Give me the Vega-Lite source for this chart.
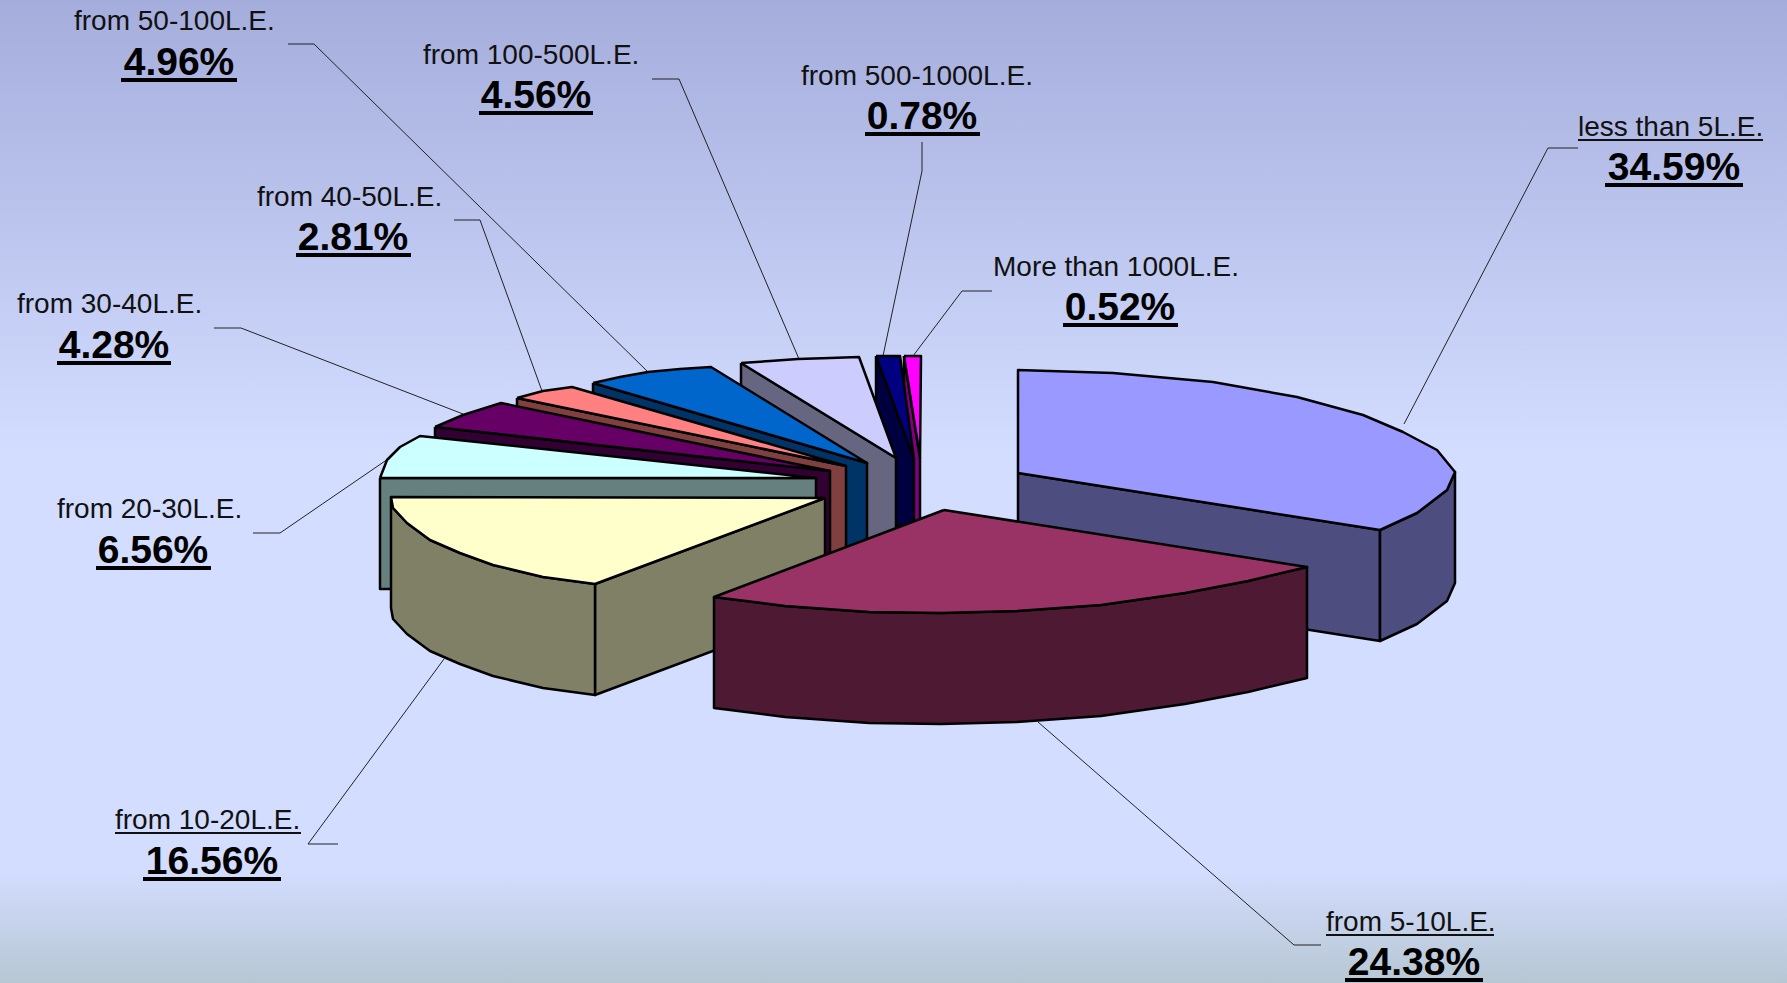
{
"$schema":"https://vega.github.io/schema/vega-lite/v6.json",
"autosize":{"type":"fit","contains":"padding"},"width":1787,"height":983,"padding":0,"background":"#D3DDFF",
"config":{"view":{"stroke":null}},
"layer":[
{"data":{"values":[{"k":"bg"}]},"mark":{"type":"rect","fill":{"gradient":"linear","x1":0,"y1":0,"x2":0,"y2":1,"stops":[{"offset":0,"color":"#A5ADDC"},{"offset":0.46,"color":"#D3DDFF"},{"offset":0.885,"color":"#D3DDFF"},{"offset":1,"color":"#B7C7D3"}]}},
"encoding":{"x":{"datum":0,"type":"quantitative","scale":{"domain":[0,1787],"nice":false,"zero":false},"axis":null},"x2":{"datum":1787},"y":{"datum":0,"type":"quantitative","scale":{"domain":[983,0],"nice":false,"zero":false},"axis":null},"y2":{"datum":983}}},
{"data":{"values":[
{"p":"l1","s":1,"x":288,"y":44},{"p":"l1","s":2,"x":314,"y":44},{"p":"l1","s":3,"x":648,"y":372},
{"p":"l2","s":1,"x":652,"y":79},{"p":"l2","s":2,"x":679,"y":79},{"p":"l2","s":3,"x":799,"y":359},
{"p":"l3","s":1,"x":454,"y":220},{"p":"l3","s":2,"x":480,"y":220},{"p":"l3","s":3,"x":542,"y":391},
{"p":"l4","s":1,"x":214,"y":328},{"p":"l4","s":2,"x":241,"y":328},{"p":"l4","s":3,"x":463,"y":414},
{"p":"l5","s":1,"x":922,"y":142},{"p":"l5","s":2,"x":922,"y":171},{"p":"l5","s":3,"x":883,"y":356},
{"p":"l6","s":1,"x":992,"y":291},{"p":"l6","s":2,"x":962,"y":291},{"p":"l6","s":3,"x":913,"y":356},
{"p":"l7","s":1,"x":1578,"y":148},{"p":"l7","s":2,"x":1548,"y":148},{"p":"l7","s":3,"x":1404,"y":424},
{"p":"l8","s":1,"x":1321,"y":945},{"p":"l8","s":2,"x":1294,"y":945},{"p":"l8","s":3,"x":1038,"y":722},
{"p":"l9","s":1,"x":338,"y":844},{"p":"l9","s":2,"x":308,"y":844},{"p":"l9","s":3,"x":444,"y":659},
{"p":"l10","s":1,"x":253,"y":533},{"p":"l10","s":2,"x":280,"y":533},{"p":"l10","s":3,"x":388,"y":459}
]},"mark":{"type":"line","stroke":"#222222","strokeWidth":1},
"encoding":{"x":{"field":"x","type":"quantitative","scale":{"domain":[0,1787],"nice":false,"zero":false},"axis":null},"y":{"field":"y","type":"quantitative","scale":{"domain":[983,0],"nice":false,"zero":false},"axis":null},"detail":{"field":"p"},"order":{"field":"s"}}},
{"data":{"values":[
{"p":"m_side","s":1,"x":904,"y":356},{"p":"m_side","s":2,"x":920,"y":458},{"p":"m_side","s":3,"x":920,"y":569},{"p":"m_side","s":4,"x":904,"y":467},{"p":"m_side","s":5,"x":904,"y":356},
{"p":"m_top","s":1,"x":904,"y":356},{"p":"m_top","s":2,"x":921,"y":356},{"p":"m_top","s":3,"x":920,"y":458},{"p":"m_top","s":4,"x":904,"y":356},
{"p":"n_side","s":1,"x":876,"y":356},{"p":"n_side","s":2,"x":914,"y":459},{"p":"n_side","s":3,"x":914,"y":570},{"p":"n_side","s":4,"x":876,"y":467},{"p":"n_side","s":5,"x":876,"y":356},
{"p":"n_top","s":1,"x":876,"y":356},{"p":"n_top","s":2,"x":900,"y":356},{"p":"n_top","s":3,"x":914,"y":459},{"p":"n_top","s":4,"x":876,"y":356},
{"p":"l_side","s":1,"x":741,"y":363},{"p":"l_side","s":2,"x":896,"y":458},{"p":"l_side","s":3,"x":896,"y":569},{"p":"l_side","s":4,"x":741,"y":474},{"p":"l_side","s":5,"x":741,"y":363},
{"p":"l_top","s":1,"x":741,"y":363},{"p":"l_top","s":2,"x":770,"y":361},{"p":"l_top","s":3,"x":798,"y":359},{"p":"l_top","s":4,"x":830,"y":358},{"p":"l_top","s":5,"x":859,"y":357},{"p":"l_top","s":6,"x":896,"y":458},{"p":"l_top","s":7,"x":741,"y":363},
{"p":"b_side","s":1,"x":593,"y":383},{"p":"b_side","s":2,"x":867,"y":463},{"p":"b_side","s":3,"x":867,"y":574},{"p":"b_side","s":4,"x":593,"y":494},{"p":"b_side","s":5,"x":593,"y":383},
{"p":"b_top","s":1,"x":593,"y":383},{"p":"b_top","s":2,"x":620,"y":377},{"p":"b_top","s":3,"x":648,"y":372},{"p":"b_top","s":4,"x":680,"y":369},{"p":"b_top","s":5,"x":711,"y":367},{"p":"b_top","s":6,"x":867,"y":463},{"p":"b_top","s":7,"x":593,"y":383},
{"p":"s_side","s":1,"x":517,"y":398},{"p":"s_side","s":2,"x":846,"y":466},{"p":"s_side","s":3,"x":846,"y":577},{"p":"s_side","s":4,"x":517,"y":509},{"p":"s_side","s":5,"x":517,"y":398},
{"p":"s_top","s":1,"x":517,"y":398},{"p":"s_top","s":2,"x":543,"y":391},{"p":"s_top","s":3,"x":572,"y":387},{"p":"s_top","s":4,"x":846,"y":466},{"p":"s_top","s":5,"x":517,"y":398},
{"p":"p_side","s":1,"x":435,"y":427},{"p":"p_side","s":2,"x":830,"y":471},{"p":"p_side","s":3,"x":830,"y":582},{"p":"p_side","s":4,"x":435,"y":538},{"p":"p_side","s":5,"x":435,"y":427},
{"p":"p_top","s":1,"x":435,"y":427},{"p":"p_top","s":2,"x":463,"y":415},{"p":"p_top","s":3,"x":501,"y":403},{"p":"p_top","s":4,"x":830,"y":471},{"p":"p_top","s":5,"x":435,"y":427},
{"p":"c_side","s":1,"x":380,"y":478},{"p":"c_side","s":2,"x":816,"y":478},{"p":"c_side","s":3,"x":816,"y":589},{"p":"c_side","s":4,"x":380,"y":589},{"p":"c_side","s":5,"x":380,"y":478},
{"p":"c_top","s":1,"x":380,"y":478},{"p":"c_top","s":2,"x":387,"y":460},{"p":"c_top","s":3,"x":400,"y":447},{"p":"c_top","s":4,"x":420,"y":436},{"p":"c_top","s":5,"x":816,"y":478},{"p":"c_top","s":6,"x":380,"y":478},
{"p":"y_inner","s":1,"x":825,"y":498},{"p":"y_inner","s":2,"x":595,"y":584},{"p":"y_inner","s":3,"x":595,"y":695},{"p":"y_inner","s":4,"x":825,"y":609},{"p":"y_inner","s":5,"x":825,"y":498},
{"p":"y_outer","s":1,"x":391,"y":497},{"p":"y_outer","s":2,"x":393,"y":508},{"p":"y_outer","s":3,"x":407,"y":523},{"p":"y_outer","s":4,"x":430,"y":540},{"p":"y_outer","s":5,"x":460,"y":553},{"p":"y_outer","s":6,"x":493,"y":565},{"p":"y_outer","s":7,"x":543,"y":577},{"p":"y_outer","s":8,"x":595,"y":584},{"p":"y_outer","s":9,"x":595,"y":695},{"p":"y_outer","s":10,"x":543,"y":688},{"p":"y_outer","s":11,"x":493,"y":676},{"p":"y_outer","s":12,"x":460,"y":664},{"p":"y_outer","s":13,"x":430,"y":651},{"p":"y_outer","s":14,"x":407,"y":634},{"p":"y_outer","s":15,"x":393,"y":619},{"p":"y_outer","s":16,"x":391,"y":608},{"p":"y_outer","s":17,"x":391,"y":497},
{"p":"y_top","s":1,"x":825,"y":498},{"p":"y_top","s":2,"x":391,"y":497},{"p":"y_top","s":3,"x":393,"y":508},{"p":"y_top","s":4,"x":407,"y":523},{"p":"y_top","s":5,"x":430,"y":540},{"p":"y_top","s":6,"x":460,"y":553},{"p":"y_top","s":7,"x":493,"y":565},{"p":"y_top","s":8,"x":543,"y":577},{"p":"y_top","s":9,"x":595,"y":584},{"p":"y_top","s":10,"x":825,"y":498},
{"p":"a_inner","s":1,"x":1018,"y":473},{"p":"a_inner","s":2,"x":1380,"y":530},{"p":"a_inner","s":3,"x":1380,"y":641},{"p":"a_inner","s":4,"x":1018,"y":584},{"p":"a_inner","s":5,"x":1018,"y":473},
{"p":"a_outer","s":1,"x":1380,"y":530},{"p":"a_outer","s":2,"x":1417,"y":513},{"p":"a_outer","s":3,"x":1447,"y":490},{"p":"a_outer","s":4,"x":1455,"y":472},{"p":"a_outer","s":5,"x":1455,"y":583},{"p":"a_outer","s":6,"x":1447,"y":601},{"p":"a_outer","s":7,"x":1417,"y":624},{"p":"a_outer","s":8,"x":1380,"y":641},{"p":"a_outer","s":9,"x":1380,"y":530},
{"p":"a_top","s":1,"x":1018,"y":473},{"p":"a_top","s":2,"x":1018,"y":370},{"p":"a_top","s":3,"x":1113,"y":373},{"p":"a_top","s":4,"x":1213,"y":382},{"p":"a_top","s":5,"x":1297,"y":397},{"p":"a_top","s":6,"x":1363,"y":415},{"p":"a_top","s":7,"x":1403,"y":432},{"p":"a_top","s":8,"x":1437,"y":450},{"p":"a_top","s":9,"x":1455,"y":472},{"p":"a_top","s":10,"x":1447,"y":490},{"p":"a_top","s":11,"x":1417,"y":513},{"p":"a_top","s":12,"x":1380,"y":530},{"p":"a_top","s":13,"x":1018,"y":473},
{"p":"r_side","s":1,"x":714,"y":597},{"p":"r_side","s":2,"x":785,"y":606},{"p":"r_side","s":3,"x":869,"y":612},{"p":"r_side","s":4,"x":941,"y":613},{"p":"r_side","s":5,"x":1017,"y":611},{"p":"r_side","s":6,"x":1101,"y":605},{"p":"r_side","s":7,"x":1185,"y":593},{"p":"r_side","s":8,"x":1248,"y":581},{"p":"r_side","s":9,"x":1307,"y":567},{"p":"r_side","s":10,"x":1307,"y":678},{"p":"r_side","s":11,"x":1248,"y":692},{"p":"r_side","s":12,"x":1185,"y":704},{"p":"r_side","s":13,"x":1101,"y":716},{"p":"r_side","s":14,"x":1017,"y":722},{"p":"r_side","s":15,"x":941,"y":724},{"p":"r_side","s":16,"x":869,"y":723},{"p":"r_side","s":17,"x":785,"y":717},{"p":"r_side","s":18,"x":714,"y":708},{"p":"r_side","s":19,"x":714,"y":597},
{"p":"r_top","s":1,"x":944,"y":510},{"p":"r_top","s":2,"x":714,"y":597},{"p":"r_top","s":3,"x":785,"y":606},{"p":"r_top","s":4,"x":869,"y":612},{"p":"r_top","s":5,"x":941,"y":613},{"p":"r_top","s":6,"x":1017,"y":611},{"p":"r_top","s":7,"x":1101,"y":605},{"p":"r_top","s":8,"x":1185,"y":593},{"p":"r_top","s":9,"x":1248,"y":581},{"p":"r_top","s":10,"x":1307,"y":567},{"p":"r_top","s":11,"x":944,"y":510}
]},"mark":{"type":"line","stroke":"black","strokeWidth":2.5,"strokeJoin":"round"},
"encoding":{"x":{"field":"x","type":"quantitative","scale":{"domain":[0,1787],"nice":false,"zero":false},"axis":null},"y":{"field":"y","type":"quantitative","scale":{"domain":[983,0],"nice":false,"zero":false},"axis":null},"detail":{"field":"p"},"order":{"field":"s"},
"fill":{"field":"p","type":"nominal","legend":null,"scale":{"domain":["m_side","m_top","n_side","n_top","l_side","l_top","b_side","b_top","s_side","s_top","p_side","p_top","c_side","c_top","y_inner","y_outer","y_top","a_inner","a_outer","a_top","r_side","r_top"],"range":["#800080","#FF00FF","#000040","#000080","#666680","#CCCCFF","#003366","#0066CC","#804040","#FF8080","#330033","#660066","#668080","#CCFFFF","#808066","#808066","#FFFFCC","#4D4D80","#4D4D80","#9999FF","#4D1933","#993366"]}}}},
{"data":{"values":[
{"label":"less than 5L.E.","x":1578,"y":136},{"label":"from 5-10L.E.","x":1326,"y":931},{"label":"from 10-20L.E.","x":115,"y":829},{"label":"from 20-30L.E.","x":57,"y":518},{"label":"from 30-40L.E.","x":17,"y":313},{"label":"from 40-50L.E.","x":257,"y":206},{"label":"from 50-100L.E.","x":74,"y":30},{"label":"from 100-500L.E.","x":423,"y":64},{"label":"from 500-1000L.E.","x":801,"y":85},{"label":"More than 1000L.E.","x":993,"y":276}
]},"mark":{"type":"text","align":"left","baseline":"alphabetic","font":"Liberation Sans","fontSize":28,"fill":"#111111"},
"encoding":{"x":{"field":"x","type":"quantitative","scale":{"domain":[0,1787],"nice":false,"zero":false},"axis":null},"y":{"field":"y","type":"quantitative","scale":{"domain":[983,0],"nice":false,"zero":false},"axis":null},"text":{"field":"label"}}},
{"data":{"values":[
{"share":"34.59%","x":1674,"y":180},{"share":"24.38%","x":1414,"y":975},{"share":"16.56%","x":212,"y":874},{"share":"6.56%","x":153,"y":563},{"share":"4.28%","x":114,"y":358},{"share":"2.81%","x":353,"y":250},{"share":"4.96%","x":179,"y":75},{"share":"4.56%","x":536,"y":108},{"share":"0.78%","x":922,"y":129},{"share":"0.52%","x":1120,"y":320}
]},"mark":{"type":"text","align":"center","baseline":"alphabetic","font":"Liberation Sans","fontWeight":"bold","fontSize":39,"fill":"#000000"},
"encoding":{"x":{"field":"x","type":"quantitative","scale":{"domain":[0,1787],"nice":false,"zero":false},"axis":null},"y":{"field":"y","type":"quantitative","scale":{"domain":[983,0],"nice":false,"zero":false},"axis":null},"text":{"field":"share"}}},
{"data":{"values":[
{"x":1605,"x2":1743,"y":185},{"x":1345,"x2":1483,"y":980},{"x":143,"x2":281,"y":879},{"x":96,"x2":211,"y":568},{"x":57,"x2":171,"y":363},{"x":296,"x2":411,"y":255},{"x":121,"x2":237,"y":80},{"x":479,"x2":593,"y":113},{"x":865,"x2":980,"y":134},{"x":1063,"x2":1178,"y":325}
]},"mark":{"type":"rule","stroke":"black","strokeWidth":4},
"encoding":{"x":{"field":"x","type":"quantitative","scale":{"domain":[0,1787],"nice":false,"zero":false},"axis":null},"x2":{"field":"x2"},"y":{"field":"y","type":"quantitative","scale":{"domain":[983,0],"nice":false,"zero":false},"axis":null}}},
{"data":{"values":[
{"x":1578,"x2":1763,"y":140},{"x":1326,"x2":1494,"y":935},{"x":115,"x2":301,"y":833}
]},"mark":{"type":"rule","stroke":"#111111","strokeWidth":2},
"encoding":{"x":{"field":"x","type":"quantitative","scale":{"domain":[0,1787],"nice":false,"zero":false},"axis":null},"x2":{"field":"x2"},"y":{"field":"y","type":"quantitative","scale":{"domain":[983,0],"nice":false,"zero":false},"axis":null}}}
]}
